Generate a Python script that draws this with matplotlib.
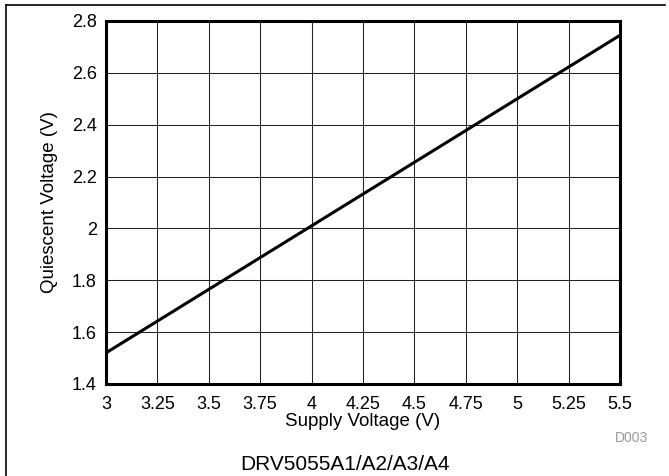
from matplotlib import pyplot as plt
from matplotlib.lines import Line2D

# 讀圖得到的數值
supply_v = [3.0, 3.5, 4.0, 4.5, 5.0, 5.5]
quiescent_v = [1.52, 1.765, 2.01, 2.255, 2.50, 2.745]

x_ticks = [3, 3.25, 3.5, 3.75, 4, 4.25, 4.5, 4.75, 5, 5.25, 5.5]
x_tick_labels = ['3', '3.25', '3.5', '3.75', '4', '4.25', '4.5', '4.75', '5', '5.25', '5.5']
y_ticks = [1.4, 1.6, 1.8, 2.0, 2.2, 2.4, 2.6, 2.8]
y_tick_labels = ['1.4', '1.6', '1.8', '2', '2.2', '2.4', '2.6', '2.8']

plt.rcParams['font.family'] = ['Liberation Sans', 'DejaVu Sans']

fig = plt.figure(figsize=(6.69, 4.76), dpi=100)
ax = fig.add_axes([0.1584, 0.1933, 0.7684, 0.7626])

ax.plot(supply_v, quiescent_v, color='black', linewidth=2.2, solid_capstyle='butt')

ax.set_xlim(3, 5.5)
ax.set_ylim(1.4, 2.8)
ax.set_xticks(x_ticks)
ax.set_xticklabels(x_tick_labels)
ax.set_yticks(y_ticks)
ax.set_yticklabels(y_tick_labels)
ax.tick_params(length=0, labelsize=13)
ax.tick_params(axis='x', pad=8.5)
ax.tick_params(axis='y', pad=6.5)
ax.grid(True, color='#222222', linewidth=0.75)
ax.set_axisbelow(True)
for s in ax.spines.values():
	s.set_linewidth(2.2)

ax.set_xlabel('Supply Voltage (V)', fontsize=13.5, labelpad=0.5)
ax.set_ylabel('Quiescent Voltage (V)', fontsize=13.5, labelpad=10)

fig.text(632 / 669, 1 - 438 / 476, 'D003', color='#999999', fontsize=10, ha='center', va='center')
fig.text(345 / 669, 1 - 465 / 476, 'DRV5055A1/A2/A3/A4', fontsize=15, ha='center', va='center')

# 外框
fig.add_artist(Line2D([6 / 669, 665 / 669], [1 - 5 / 476, 1 - 5 / 476], color='black', linewidth=1.2))
fig.add_artist(Line2D([6 / 669, 6 / 669], [1 - 5 / 476, 0], color='black', linewidth=1.2))

fig.savefig('out.png', dpi=100)
